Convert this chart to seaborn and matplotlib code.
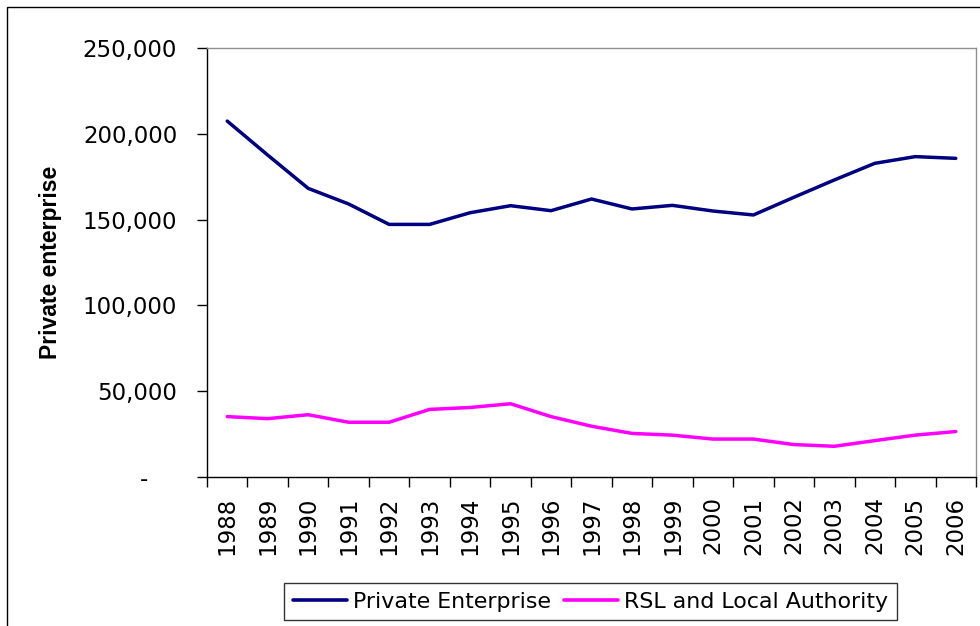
import numpy as np
import pandas as pd
import matplotlib
matplotlib.use("Agg")
import matplotlib.pyplot as plt
from matplotlib.patches import Rectangle
from matplotlib.lines import Line2D
import seaborn as sns

years = list(range(1988, 2007))
private_enterprise = [207400, 187600, 168200, 159100, 147200, 147200, 154000, 158100, 155200,
                      162000, 156200, 158300, 155000, 152700, 163000, 173100, 182800, 186700, 185700]
rsl_local_authority = [35200, 34000, 36300, 31900, 31900, 39400, 40500, 42700, 35200,
                       29600, 25400, 24400, 22100, 22100, 18900, 17900, 21200, 24400, 26500]
series_names = ["Private Enterprise", "RSL and Local Authority"]
series_colors = ["#000080", "#FF00FF"]
y_ticks = [0, 50000, 100000, 150000, 200000, 250000]
y_tick_labels = ["-    ", "50,000", "100,000", "150,000", "200,000", "250,000"]

df = pd.DataFrame({
    "year": years * 2,
    "value": private_enterprise + rsl_local_authority,
    "series": [series_names[0]] * len(years) + [series_names[1]] * len(years),
})

sns.set_style("white")
plt.rcParams["font.family"] = ["DejaVu Sans"]

fig = plt.figure(figsize=(9.8, 6.26), dpi=100)
ax = fig.add_axes([207 / 980, 1 - 477 / 626, (976 - 207) / 980, (477 - 48) / 626])

sns.lineplot(data=df, x="year", y="value", hue="series", palette=series_colors,
             hue_order=series_names, ax=ax, linewidth=2.5, legend=False)

ax.set_xlim(years[0] - 0.5, years[-1] + 0.5)
ax.set_ylim(0, 250000)
ax.set_yticks(y_ticks)
ax.set_yticklabels(y_tick_labels)
ax.set_xticks(years)
ax.set_xticklabels([str(y) for y in years], rotation=90)
ax.set_xticks([y - 0.5 for y in years] + [years[-1] + 0.5], minor=True)
ax.tick_params(axis="x", which="major", length=0, pad=14, labelsize=16.5, colors="black")
ax.tick_params(axis="x", which="minor", length=7, width=1, direction="out", bottom=True, color="black")
ax.tick_params(axis="y", length=7, width=1, direction="out", left=True, pad=14.5, labelsize=16.5, colors="black")
ax.set_xlabel("")
ax.set_ylabel("Private enterprise", family=["Liberation Sans", "DejaVu Sans"],
              fontweight="bold", fontsize=16.5, color="black")
ax.yaxis.set_label_coords(-0.188, 0.5)

for s in ["left", "bottom"]:
    ax.spines[s].set_color("black")
    ax.spines[s].set_linewidth(1)
for s in ["top", "right"]:
    ax.spines[s].set_color("#909090")
    ax.spines[s].set_linewidth(1)

# outer chart border
fig.patches.append(Rectangle((7 / 980, -0.1), 1.2, 1.1 - 7 / 626, transform=fig.transFigure,
                             fill=False, edgecolor="black", linewidth=1))

handles = [Line2D([0], [0], color=c, lw=2.6) for c in series_colors]
leg = fig.legend(handles, series_names, loc="center", bbox_to_anchor=(590.5 / 980, 1 - 601.5 / 626),
                 ncol=2, frameon=True, fancybox=False, edgecolor="black", fontsize=15.9,
                 labelcolor="black",
                 handlelength=2.45, handletextpad=0.28, columnspacing=0.55, borderpad=0.4,
                 borderaxespad=0)
leg.get_frame().set_linewidth(1)

fig.savefig("out.png", dpi=100, facecolor="white")
